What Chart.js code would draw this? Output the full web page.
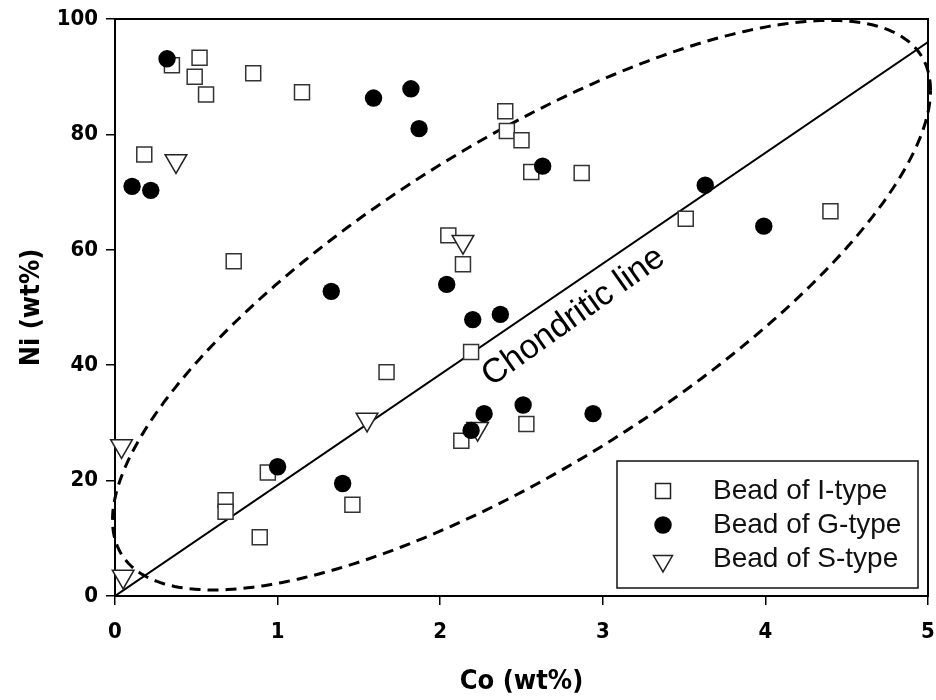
<!DOCTYPE html>
<html><head><meta charset="utf-8">
<script src="https://cdn.jsdelivr.net/npm/chart.js@4.4.1/dist/chart.umd.min.js"></script>
<style>html,body{margin:0;padding:0;background:#fff;}#wrap{width:936px;height:700px;}</style>
</head><body><div id="wrap"><canvas id="c" width="936" height="700"></canvas></div>
<script>
// ---- data (Co wt%, Ni wt%) ----
const iTypeCo = [0.35,0.52,0.49,0.56,0.85,1.15,0.18,0.73,2.40,2.41,2.50,2.56,2.87,3.51,4.40,2.05,2.14,2.19,1.67,0.94,0.68,0.68,0.89,1.46,2.13,2.53];
const iTypeNi = [92.0,93.3,90.0,86.9,90.6,87.3,76.5,58.0,84.0,80.6,79.0,73.5,73.3,65.4,66.7,62.5,57.5,42.3,38.8,21.4,16.6,14.6,10.2,15.8,26.9,29.8];
const gTypeCo = [0.32,0.105,0.22,1.59,1.82,1.87,2.63,3.63,3.99,2.04,2.20,2.37,1.33,2.27,2.51,2.94,2.19,1.00,1.40];
const gTypeNi = [93.1,71.0,70.3,86.3,87.9,81.0,74.5,71.2,64.1,54.0,47.9,48.8,52.8,31.6,33.1,31.6,28.7,22.4,19.5];
const sTypeCo = [0.375,2.14,1.55,0.04,0.05,2.23];
const sTypeNi = [75.4,61.4,30.6,26.0,3.4,29.0];
const chondriticCo = [0, 5];
const chondriticNi = [0, 96];
const xTicks = [0,1,2,3,4,5];
const yTicks = [0,20,40,60,80,100];
const seriesLabels = ['Bead of I-type','Bead of G-type','Bead of S-type'];
const lineLabel = 'Chondritic line';
const lineLabelAt = [2.82, 48.4];
const xTitle = 'Co (wt%)';
const yTitle = 'Ni (wt%)';
// dashed envelope ellipse (data units): centre and second-moment shape
const ellipseCenter = [2.5, 50.4];
const ellipseShape = {sxx: 6.327, syy: 2435.5, sxy: 93.65};

const pts = (xs, ys) => xs.map((x, i) => ({x, y: ys[i]}));
const boldNarrow = "'Liberation Sans Narrow','DejaVu Sans Condensed','Arial Narrow',Arial,sans-serif";
const sans = "'Liberation Sans',Arial,Helvetica,sans-serif";

function drawMarker(ctx, kind, x, y, s) {
  ctx.save();
  ctx.lineWidth = 1.5;
  ctx.strokeStyle = '#222';
  if (kind === 0) {
    ctx.fillStyle = '#fff';
    ctx.fillRect(x - s/2, y - s/2, s, s);
    ctx.strokeRect(x - s/2, y - s/2, s, s);
  } else if (kind === 1) {
    ctx.fillStyle = '#000';
    ctx.beginPath(); ctx.arc(x, y, s/2, 0, Math.PI*2); ctx.fill();
  } else {
    const r = s/1.732;
    ctx.fillStyle = '#fff';
    ctx.beginPath();
    ctx.moveTo(x - s/2, y - r/2);
    ctx.lineTo(x + s/2, y - r/2);
    ctx.lineTo(x, y + r);
    ctx.closePath(); ctx.fill(); ctx.stroke();
  }
  ctx.restore();
}

const decor = {
  id: 'decor',
  beforeDatasetsDraw(chart) {
    const {ctx, chartArea: a, scales: {x, y}} = chart;
    ctx.save();
    ctx.strokeStyle = '#000'; ctx.lineWidth = 2;
    ctx.strokeRect(a.left, a.top, a.right - a.left, a.bottom - a.top);
    const L11 = Math.sqrt(ellipseShape.sxx);
    const L21 = ellipseShape.sxy / L11;
    const L22 = Math.sqrt(ellipseShape.syy - L21*L21);
    ctx.beginPath();
    for (let k = 0; k <= 360; k++) {
      const t = k / 360 * Math.PI * 2;
      const dx = ellipseCenter[0] + L11*Math.cos(t);
      const dy = ellipseCenter[1] + L21*Math.cos(t) + L22*Math.sin(t);
      const px = x.getPixelForValue(dx), py = y.getPixelForValue(dy);
      if (k === 0) ctx.moveTo(px, py); else ctx.lineTo(px, py);
    }
    ctx.setLineDash([11, 7]);
    ctx.lineWidth = 3;
    ctx.stroke();
    ctx.restore();
  },
  afterDatasetsDraw(chart) {
    const {ctx, chartArea: a, scales: {x, y}} = chart;
    ctx.save();
    ctx.translate(x.getPixelForValue(lineLabelAt[0]), y.getPixelForValue(lineLabelAt[1]));
    ctx.rotate(-35.5 * Math.PI / 180);
    ctx.font = '34px ' + sans;
    ctx.fillStyle = '#000';
    ctx.textAlign = 'center'; ctx.textBaseline = 'middle';
    ctx.fillText(lineLabel, 0, 0);
    ctx.restore();
    const w = 301, h = 127;
    const lx = a.right - 10 - w, ly = a.bottom - 8 - h;
    ctx.save();
    ctx.fillStyle = '#fff'; ctx.fillRect(lx, ly, w, h);
    ctx.strokeStyle = '#111'; ctx.lineWidth = 1.5; ctx.strokeRect(lx, ly, w, h);
    ctx.font = '28px ' + sans;
    ctx.fillStyle = '#111'; ctx.textBaseline = 'middle'; ctx.textAlign = 'left';
    const sizes = [15, 17.5, 19];
    seriesLabels.forEach((lab, i) => {
      const ry = ly + 30 + i * 34;
      drawMarker(ctx, i, lx + 46, ry + (i === 2 ? 2 : 0), sizes[i]);
      ctx.fillText(lab, lx + 96, ry);
    });
    ctx.restore();
  }
};

new Chart(document.getElementById('c'), {
  type: 'scatter',
  data: {
    datasets: [
      {label: seriesLabels[1], data: pts(gTypeCo, gTypeNi), pointStyle: 'circle', pointRadius: 8.7, pointHoverRadius: 8.7,
       backgroundColor: '#000', borderColor: '#000', borderWidth: 0, order: 1, clip: false},
      {label: seriesLabels[2], data: pts(sTypeCo, sTypeNi), pointStyle: 'triangle', rotation: 180, pointRadius: 12.5, pointHoverRadius: 12.5,
       backgroundColor: '#fff', borderColor: '#222', borderWidth: 1.5, order: 2, clip: false},
      {label: seriesLabels[0], data: pts(iTypeCo, iTypeNi), pointStyle: 'rect', pointRadius: 10.6, pointHoverRadius: 10.6,
       backgroundColor: '#fff', borderColor: '#333', borderWidth: 1.5, order: 3, clip: false},
      {type: 'line', label: lineLabel, data: pts(chondriticCo, chondriticNi), borderColor: '#000', borderWidth: 2,
       pointRadius: 0, fill: false, order: 10}
    ]
  },
  options: {
    responsive: false,
    animation: false,
    events: [],
    layout: {autoPadding: false, padding: {top: 19, right: 8, left: 0, bottom: 0}},
    plugins: {legend: {display: false}, tooltip: {enabled: false}},
    scales: {
      x: {
        type: 'linear', min: 0, max: 5,
        afterBuildTicks: s => { s.ticks = xTicks.map(v => ({value: v})); },
        afterFit: s => { s.height = 104; s.paddingLeft = 0; s.paddingRight = 0; },
        grid: {drawOnChartArea: false, drawTicks: true, tickLength: 9, color: '#000', lineWidth: 1.5},
        border: {display: true, color: '#000', width: 2},
        ticks: {color: '#000', padding: 14, font: {family: boldNarrow, size: 22, weight: 'bold'}, maxRotation: 0},
        title: {display: true, text: xTitle, color: '#000', font: {family: boldNarrow, size: 27, weight: 'bold'}, padding: {top: 0, bottom: 2}}
      },
      y: {
        type: 'linear', min: 0, max: 100,
        afterBuildTicks: s => { s.ticks = yTicks.map(v => ({value: v})); },
        afterFit: s => { s.width = 115; s.paddingTop = 0; s.paddingBottom = 0; },
        grid: {drawOnChartArea: false, drawTicks: true, tickLength: 9, color: '#000', lineWidth: 1.5},
        border: {display: true, color: '#000', width: 2},
        ticks: {color: '#000', padding: 8, font: {family: boldNarrow, size: 22, weight: 'bold'}},
        title: {display: true, text: yTitle, color: '#000', font: {family: boldNarrow, size: 27, weight: 'bold'}, padding: {top: 16, bottom: 0}}
      }
    }
  },
  plugins: [decor]
});
</script>
</body></html>
